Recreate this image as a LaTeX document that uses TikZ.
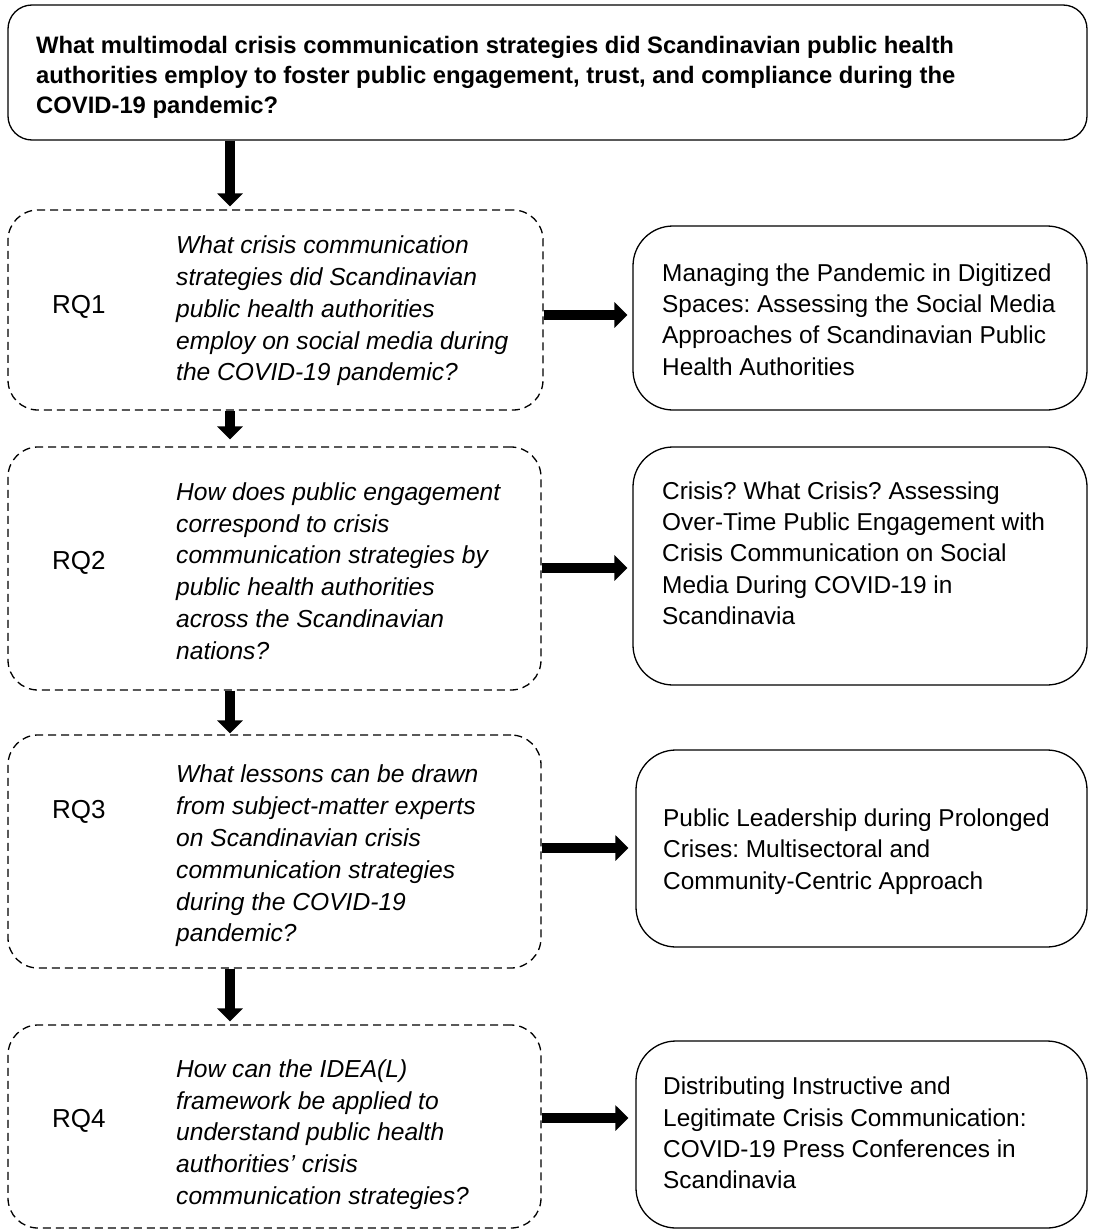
\documentclass[tikz,border=0pt]{standalone}
\usepackage{fontspec}
\setmainfont{Liberation Sans}
\usetikzlibrary{arrows.meta,calc}
\begin{document}
\frenchspacing
\begin{tikzpicture}[x=1pt,y=-1pt,
  dbox/.style={draw, dash pattern=on 8pt off 5pt, line width=1.3pt, rounded corners=30pt, inner sep=0pt},
  sbox/.style={draw, line width=1.3pt, rounded corners=40pt, inner sep=0pt},
  tbox/.style={draw, line width=1.3pt, rounded corners=24pt, inner sep=0pt},
  txt/.style={align=left, inner sep=0pt, anchor=west, font=\fontsize{24.4}{31.3}\selectfont},
  itxt/.style={txt, font=\fontsize{24.6}{31.8}\selectfont\itshape},
  ttxt/.style={align=left, inner sep=0pt, anchor=west, font=\fontsize{23.8}{30}\selectfont\bfseries},
  rq/.style={inner sep=0pt, anchor=west, font=\fontsize{26}{30}\selectfont},
  bigarrow/.style={line width=10pt, -{Triangle[length=13pt,width=25pt]}}]
\useasboundingbox (0,0) rectangle (1095,1231);
% top box
\node[tbox, minimum width=1079pt, minimum height=135pt] (top) at (547.5,72.5) {};
\node[ttxt] (toptxt) at (36,77) {What multimodal crisis communication strategies did Scandinavian public health\\authorities employ to foster public engagement, trust, and compliance during the\\COVID-19 pandemic?};
% RQ boxes
\node[dbox, minimum width=535pt, minimum height=200pt] (rq1) at (275.5,310) {};
\node[dbox, minimum width=533pt, minimum height=243pt] (rq2) at (274.5,568.5) {};
\node[dbox, minimum width=533pt, minimum height=233pt] (rq3) at (274.5,851.5) {};
\node[dbox, minimum width=533pt, minimum height=203pt] (rq4) at (274.5,1126.5) {};
% right boxes
\node[sbox, minimum width=454pt, minimum height=184pt] (p1) at (860,318) {};
\node[sbox, minimum width=454pt, minimum height=238pt] (p2) at (860,566) {};
\node[sbox, minimum width=451pt, minimum height=197pt] (p3) at (861.5,848.5) {};
\node[sbox, minimum width=451pt, minimum height=187pt] (p4) at (861.5,1134.5) {};
% labels
\node[rq] (l1) at (52,307) {RQ1};
\node[rq] (l2) at (52,563) {RQ2};
\node[rq] (l3) at (52,812) {RQ3};
\node[rq] (l4) at (52,1121) {RQ4};
% question texts
\node[itxt] (q1) at (176,311) {What crisis communication\\strategies did Scandinavian\\public health authorities\\employ on social media during\\the COVID-19 pandemic?};
\node[itxt] (q2) at (176,571) {How does public engagement\\correspond to crisis\\communication strategies by\\public health authorities\\across the Scandinavian\\nations?};
\node[itxt] (q3) at (176,856) {What lessons can be drawn\\from subject-matter experts\\on Scandinavian crisis\\communication strategies\\during the COVID-19\\pandemic?};
\node[itxt] (q4) at (176,1134.5) {How can the IDEA(L)\\framework be applied to\\understand public health\\authorities’ crisis\\communication strategies?};
% paper texts
\node[txt] (r1) at (662,319.5) {Managing the Pandemic in Digitized\\Spaces: Assessing the Social Media\\Approaches of Scandinavian Public\\Health Authorities};
\node[txt] (r2) at (662,553) {Crisis? What Crisis? Assessing\\Over-Time Public Engagement with\\Crisis Communication on Social\\Media During COVID-19 in\\Scandinavia};
\node[txt] (r3) at (663,851.5) {Public Leadership during Prolonged\\Crises: Multisectoral and\\Community-Centric Approach};
\node[txt] (r4) at (663,1133) {Distributing Instructive and\\Legitimate Crisis Communication:\\COVID-19 Press Conferences in\\Scandinavia};
% arrows
\coordinate (ax) at (230,0);
\draw[bigarrow, shorten >=3pt] (top.south -| ax) -- (rq1.north -| ax);
\draw[bigarrow, shorten >=7pt] (rq1.south -| ax) -- (rq2.north -| ax);
\draw[bigarrow, shorten >=1pt] (rq2.south -| ax) -- (rq3.north -| ax);
\draw[bigarrow, shorten >=3pt] (rq3.south -| ax) -- (rq4.north -| ax);
\coordinate (h1) at (0,315);
\coordinate (h2) at (0,568);
\coordinate (h3) at (0,848);
\coordinate (h4) at (0,1118);
\draw[bigarrow, shorten >=5pt] (rq1.east |- h1) -- (p1.west |- h1);
\draw[bigarrow, shorten >=5pt] (rq2.east |- h2) -- (p2.west |- h2);
\draw[bigarrow, shorten >=7pt] (rq3.east |- h3) -- (p3.west |- h3);
\draw[bigarrow, shorten >=7pt] (rq4.east |- h4) -- (p4.west |- h4);
\end{tikzpicture}
\end{document}
